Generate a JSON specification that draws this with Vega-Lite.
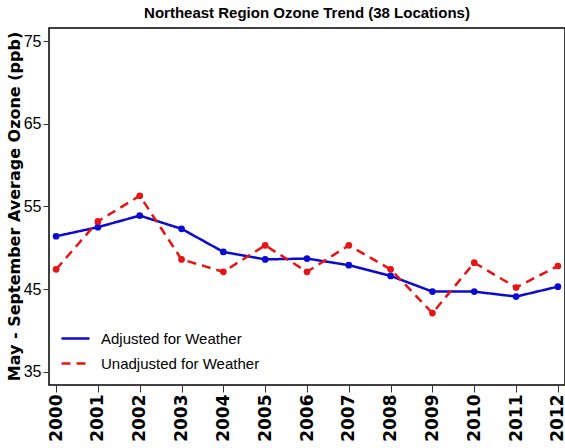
{
  "$schema": "https://vega.github.io/schema/vega-lite/v6.json",
  "width": 516,
  "height": 357,
  "autosize": {"type": "none"},
  "padding": {"left": 49, "top": 28, "right": 0, "bottom": 63},
  "background": "white",
  "config": {
    "view": {"stroke": "black", "strokeWidth": 1.5},
    "font": "Liberation Sans"
  },
  "title": {
    "text": "Northeast Region Ozone Trend (38 Locations)",
    "font": "Liberation Sans",
    "fontSize": 15,
    "fontWeight": "bold",
    "color": "black",
    "anchor": "middle",
    "offset": 7
  },
  "data": {
    "values": [
      {"year": 2000, "series": "Adjusted for Weather", "ozone": 51.4},
      {"year": 2001, "series": "Adjusted for Weather", "ozone": 52.5},
      {"year": 2002, "series": "Adjusted for Weather", "ozone": 53.9},
      {"year": 2003, "series": "Adjusted for Weather", "ozone": 52.3},
      {"year": 2004, "series": "Adjusted for Weather", "ozone": 49.5},
      {"year": 2005, "series": "Adjusted for Weather", "ozone": 48.6},
      {"year": 2006, "series": "Adjusted for Weather", "ozone": 48.7},
      {"year": 2007, "series": "Adjusted for Weather", "ozone": 47.9},
      {"year": 2008, "series": "Adjusted for Weather", "ozone": 46.6},
      {"year": 2009, "series": "Adjusted for Weather", "ozone": 44.7},
      {"year": 2010, "series": "Adjusted for Weather", "ozone": 44.7},
      {"year": 2011, "series": "Adjusted for Weather", "ozone": 44.1},
      {"year": 2012, "series": "Adjusted for Weather", "ozone": 45.3},
      {"year": 2000, "series": "Unadjusted for Weather", "ozone": 47.4},
      {"year": 2001, "series": "Unadjusted for Weather", "ozone": 53.2},
      {"year": 2002, "series": "Unadjusted for Weather", "ozone": 56.3},
      {"year": 2003, "series": "Unadjusted for Weather", "ozone": 48.6},
      {"year": 2004, "series": "Unadjusted for Weather", "ozone": 47.1},
      {"year": 2005, "series": "Unadjusted for Weather", "ozone": 50.3},
      {"year": 2006, "series": "Unadjusted for Weather", "ozone": 47.1},
      {"year": 2007, "series": "Unadjusted for Weather", "ozone": 50.3},
      {"year": 2008, "series": "Unadjusted for Weather", "ozone": 47.4},
      {"year": 2009, "series": "Unadjusted for Weather", "ozone": 42.1},
      {"year": 2010, "series": "Unadjusted for Weather", "ozone": 48.2},
      {"year": 2011, "series": "Unadjusted for Weather", "ozone": 45.2},
      {"year": 2012, "series": "Unadjusted for Weather", "ozone": 47.8}
    ]
  },
  "encoding": {
    "x": {
      "field": "year",
      "type": "quantitative",
      "scale": {"domain": [1999.83, 2012.17], "nice": false, "zero": false},
      "axis": {
        "title": null,
        "values": [2000, 2001, 2002, 2003, 2004, 2005, 2006, 2007, 2008, 2009, 2010, 2011, 2012],
        "format": "d",
        "labelAngle": 270,
        "labelAlign": "right",
        "labelBaseline": "middle",
        "labelFont": "DejaVu Sans",
        "labelFontWeight": "bold",
        "labelFontSize": 17,
        "labelColor": "black",
        "labelPadding": 2,
        "labelOverlap": false,
        "labelFlush": false,
        "tickColor": "#333333",
        "tickSize": 7,
        "tickWidth": 1,
        "domain": false,
        "grid": false
      }
    },
    "y": {
      "field": "ozone",
      "type": "quantitative",
      "scale": {"domain": [33.4, 76.6], "nice": false, "zero": false},
      "axis": {
        "title": "May - September Average Ozone (ppb)",
        "titleFont": "DejaVu Sans",
        "titleFontWeight": "bold",
        "titleFontSize": 16,
        "titleColor": "black",
        "titleX": -35,
        "titleY": 178,
        "titleAngle": 270,
        "titleAlign": "center",
        "titleBaseline": "middle",
        "values": [35, 45, 55, 65, 75],
        "labelFont": "Liberation Sans",
        "labelFontSize": 16,
        "labelColor": "black",
        "labelPadding": 2,
        "tickColor": "#333333",
        "tickSize": 6,
        "tickWidth": 1,
        "domain": false,
        "grid": false
      }
    },
    "color": {
      "field": "series",
      "type": "nominal",
      "scale": {"domain": ["Adjusted for Weather", "Unadjusted for Weather"], "range": ["#0a0ad2", "#e81414"]},
      "legend": {
        "title": null,
        "orient": "none",
        "legendX": 11,
        "legendY": 295,
        "symbolType": "stroke",
        "symbolSize": 784,
        "symbolStrokeWidth": 2.5,
        "labelFont": "Liberation Sans",
        "labelFontSize": 15,
        "labelColor": "black",
        "labelOffset": 10,
        "labelLimit": 0,
        "rowPadding": 1,
        "padding": 0
      }
    },
    "strokeDash": {
      "field": "series",
      "type": "nominal",
      "scale": {"domain": ["Adjusted for Weather", "Unadjusted for Weather"], "range": [[1, 0], [9, 6]]},
      "legend": {
        "title": null,
        "orient": "none",
        "legendX": 11,
        "legendY": 295,
        "symbolType": "stroke",
        "symbolSize": 784,
        "symbolStrokeWidth": 2.5,
        "labelFont": "Liberation Sans",
        "labelFontSize": 15,
        "labelColor": "black",
        "labelOffset": 10,
        "labelLimit": 0,
        "rowPadding": 1,
        "padding": 0
      }
    }
  },
  "layer": [
    {"mark": {"type": "line", "strokeWidth": 2.5}},
    {
      "mark": {"type": "point", "filled": true, "shape": "circle", "size": 45, "opacity": 1},
      "encoding": {"strokeDash": {"value": [1, 0]}}
    }
  ]
}
